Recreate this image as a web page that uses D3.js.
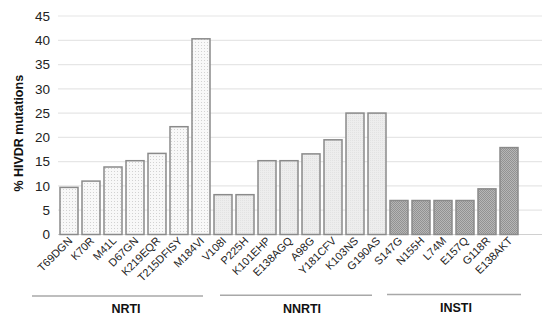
<!DOCTYPE html>
<html lang="en">
<head>
  <meta charset="UTF-8">
  <title>HIVDR mutations</title>
  <script src="https://d3js.org/d3.v7.min.js"></script>
  <style>
    body { margin: 0; background: #fff; }
    svg { display: block; font-family: "Liberation Sans", Arial, sans-serif; }
    .tick text { fill: #222; }
  </style>
</head>
<body>
  <svg id="chart" width="550" height="321"></svg>
  <script>
    // mutations by drug class
    const nrti = ["T69DGN", "K70R", "M41L", "D67GN", "K219EQR", "T215DFISY", "M184VI"];
    const nrtiValues = [9.7, 11.0, 13.9, 15.2, 16.7, 22.2, 40.3];
    const nnrti = ["V108I", "P225H", "K101EHP", "E138AGQ", "A98G", "Y181CFV", "K103NS", "G190AS"];
    const nnrtiValues = [8.2, 8.2, 15.2, 15.2, 16.6, 19.5, 25.0, 25.0];
    const insti = ["S147G", "N155H", "L74M", "E157Q", "G118R", "E138AKT"];
    const instiValues = [7.0, 7.0, 7.0, 7.0, 9.4, 17.9];
    const groups = ["NRTI", "NNRTI", "INSTI"];
    const yTicks = [0, 5, 10, 15, 20, 25, 30, 35, 40, 45];

    const rows = [];
    [[nrti, nrtiValues], [nnrti, nnrtiValues], [insti, instiValues]].forEach(([names, vals], g) => {
      names.forEach((n, i) => rows.push({ name: n, value: vals[i], group: groups[g] }));
    });

    const svg = d3.select("#chart");
    const plotLeft = 58, plotRight = 542, plotTop = 16, plotBottom = 234.5;

    const x = d3.scaleBand()
      .domain(rows.map(d => d.name))
      .range([plotLeft, plotLeft + 22 * rows.length])
      .paddingInner(4 / 22)
      .paddingOuter(2 / 22);

    const y = d3.scaleLinear().domain([0, 45]).range([plotBottom, plotTop]);

    // fill patterns
    const defs = svg.append("defs");
    const p1 = defs.append("pattern").attr("id", "pNRTI")
      .attr("width", 3).attr("height", 3).attr("patternUnits", "userSpaceOnUse");
    p1.append("rect").attr("width", 3).attr("height", 3).attr("fill", "#f8f8f8");
    p1.append("rect").attr("width", 1).attr("height", 1).attr("fill", "#d2d2d2");

    const p2 = defs.append("pattern").attr("id", "pNNRTI")
      .attr("width", 2).attr("height", 2).attr("patternUnits", "userSpaceOnUse");
    p2.append("rect").attr("width", 2).attr("height", 2).attr("fill", "#ededed");
    p2.append("rect").attr("width", 1).attr("height", 1).attr("fill", "#e2e2e2");

    const p3 = defs.append("pattern").attr("id", "pINSTI")
      .attr("width", 2).attr("height", 2).attr("patternUnits", "userSpaceOnUse");
    p3.append("rect").attr("width", 2).attr("height", 2).attr("fill", "#b6b6b6");
    p3.append("rect").attr("width", 1).attr("height", 1).attr("fill", "#929292");
    p3.append("rect").attr("x", 1).attr("y", 1).attr("width", 1).attr("height", 1).attr("fill", "#929292");

    // gridlines
    svg.append("g")
      .selectAll("line")
      .data(yTicks)
      .join("line")
      .attr("x1", plotLeft).attr("x2", plotRight)
      .attr("y1", d => y(d)).attr("y2", d => y(d))
      .attr("stroke", d => d === 0 ? "#d0d0d0" : "#e6e6e6")
      .attr("stroke-width", 1.2);

    // y axis labels
    const yAxis = svg.append("g")
      .attr("transform", `translate(${plotLeft},0)`)
      .call(d3.axisLeft(y).tickValues(yTicks).tickSize(0).tickPadding(8));
    yAxis.select(".domain").remove();
    yAxis.selectAll("text").attr("font-size", 13.5).attr("font-family", "Liberation Sans, Arial, sans-serif");

    svg.append("text")
      .attr("transform", `translate(23,${(plotTop + plotBottom) / 2 + 8}) rotate(-90)`)
      .attr("text-anchor", "middle")
      .attr("font-size", 12.5)
      .attr("font-weight", "bold")
      .attr("fill", "#111")
      .text("% HIVDR mutations");

    // bars
    svg.append("g")
      .selectAll("rect")
      .data(rows)
      .join("rect")
      .attr("x", d => x(d.name))
      .attr("y", d => y(d.value))
      .attr("width", x.bandwidth())
      .attr("height", d => y(0) - y(d.value))
      .attr("fill", d => `url(#p${d.group})`)
      .attr("stroke", "#8a8a8a")
      .attr("stroke-width", 1.5);

    // category labels
    svg.append("g")
      .selectAll("text")
      .data(rows)
      .join("text")
      .attr("transform", d => `translate(${x(d.name) + x.bandwidth() / 2 + 4},${plotBottom + 7}) rotate(-45)`)
      .attr("text-anchor", "end")
      .attr("font-size", 11)
      .attr("fill", "#222")
      .text(d => d.name);

    // group brackets
    const groupSpans = [
      { name: "NRTI", x1: 32, x2: 203, ty: 313, tx: 126 },
      { name: "NNRTI", x1: 220, x2: 372, ty: 313, tx: 302 },
      { name: "INSTI", x1: 387, x2: 521, ty: 312, tx: 456 }
    ];
    const gl = svg.append("g");
    gl.selectAll("line")
      .data(groupSpans)
      .join("line")
      .attr("x1", d => d.x1).attr("x2", d => d.x2)
      .attr("y1", (d, i) => 296 - i * 0.7).attr("y2", (d, i) => 296 - i * 0.7)
      .attr("stroke", "#a8a8a8")
      .attr("stroke-width", 1.5);
    gl.selectAll("text")
      .data(groupSpans)
      .join("text")
      .attr("x", d => d.tx)
      .attr("y", d => d.ty)
      .attr("text-anchor", "middle")
      .attr("font-size", 12.5)
      .attr("font-weight", "bold")
      .attr("fill", "#111")
      .text(d => d.name);
  </script>
</body>
</html>
